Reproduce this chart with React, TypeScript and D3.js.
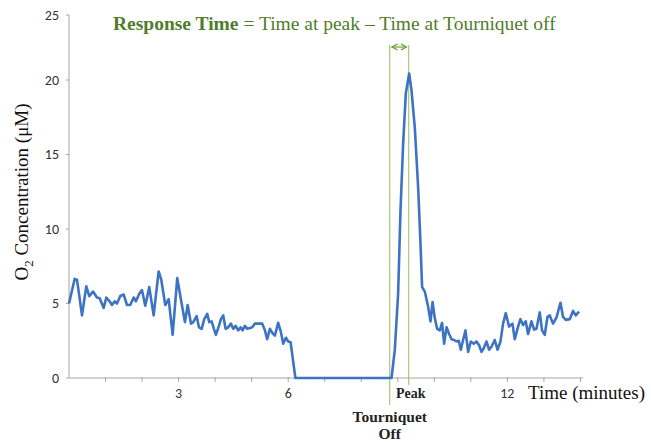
import React from "react";
import * as d3 from "d3";

// O2 concentration (µM) vs time (minutes), as [minute, µM] pairs
const baseline: [number, number][] = [
  [0, 5.0], [0.156, 6.65], [0.219, 6.6], [0.356, 4.2], [0.473, 6.15], [0.555, 5.5],
  [0.657, 5.8], [0.766, 5.4], [0.84, 5.35], [0.949, 4.7], [1.021, 5.4], [1.114, 5.15],
  [1.176, 4.9], [1.25, 5.15], [1.313, 5.0], [1.404, 5.5], [1.497, 5.6], [1.587, 4.9],
  [1.677, 4.9], [1.77, 5.4], [1.833, 5.15], [1.923, 5.65], [1.997, 5.9], [2.088, 4.85],
  [2.197, 6.1], [2.317, 4.2], [2.454, 7.15], [2.525, 6.6], [2.635, 4.9], [2.728, 5.3],
  [2.837, 2.9], [2.963, 6.7], [3.083, 5.0], [3.174, 3.75], [3.248, 4.9], [3.338, 3.65],
  [3.401, 3.75], [3.494, 4.15], [3.557, 3.4], [3.631, 3.3], [3.702, 3.95], [3.784, 4.3],
  [3.839, 3.75], [3.904, 3.8], [3.967, 3.3], [4.022, 2.9], [4.104, 3.5], [4.159, 3.95],
  [4.222, 4.2], [4.287, 3.3], [4.358, 3.4], [4.432, 3.65], [4.495, 3.3], [4.561, 3.5],
  [4.632, 3.2], [4.698, 3.4], [4.752, 3.2], [4.815, 3.5], [4.878, 3.3], [4.952, 3.35],
  [5.015, 3.4], [5.089, 3.65], [5.179, 3.65], [5.289, 3.65], [5.363, 3.2], [5.425, 2.6],
  [5.499, 3.3], [5.573, 3.0], [5.636, 2.85], [5.726, 3.7], [5.8, 3.1], [5.863, 2.3],
  [5.937, 2.7], [6.0, 2.45], [6.066, 2.4], [6.137, 1.1], [6.197, 0],
];

// Tourniquet on: signal flat at zero
const occlusion: [number, number][] = [[6.197, 0], [8.829, 0]];

// Reperfusion response after tourniquet release
const hyperemia: [number, number][] = [
  [8.829, 0], [8.919, 1.9], [9.01, 5.7], [9.075, 11.3], [9.146, 15.7], [9.22, 19.1],
  [9.311, 20.5], [9.376, 19.3], [9.466, 16.8], [9.557, 12.8], [9.622, 9.0], [9.666, 6.1],
  [9.74, 5.8], [9.83, 4.8],
];

const recovery: [number, number][] = [
  [9.896, 3.8], [9.951, 5.1], [10.014, 4.0], [10.077, 3.3], [10.15, 3.2], [10.213, 3.7],
  [10.268, 2.3], [10.334, 3.4], [10.405, 2.95], [10.47, 2.6], [10.542, 2.55], [10.607, 2.45],
  [10.67, 2.5], [10.725, 1.9], [10.788, 2.55], [10.853, 3.2], [10.925, 1.75], [10.999, 2.45],
  [11.081, 2.3], [11.155, 2.45], [11.226, 2.2], [11.291, 1.75], [11.354, 2.0], [11.428, 2.45],
  [11.499, 1.9], [11.565, 2.1], [11.655, 2.55], [11.729, 1.9], [11.811, 2.45], [11.882, 3.65],
  [11.956, 4.35], [12.046, 3.45], [12.139, 3.65], [12.202, 2.6], [12.293, 3.45], [12.358, 3.95],
  [12.429, 3.55], [12.503, 3.8], [12.566, 2.95], [12.659, 3.8], [12.731, 3.25], [12.796, 3.3],
  [12.886, 4.4], [12.949, 3.2], [13.023, 2.9], [13.097, 4.1], [13.16, 4.2], [13.25, 3.65],
  [13.343, 4.05], [13.453, 5.05], [13.524, 4.1], [13.598, 3.9], [13.707, 3.95], [13.798, 4.5],
  [13.871, 4.2], [13.962, 4.45],
];

const tourniquetOffMin = 8.78;
const peakMin = 9.3;

const yTicks = [0, 5, 10, 15, 20, 25];
const xTickMinutes = d3.range(1, 15);
const xTickLabels: Record<number, string> = { 3: "3", 6: "6", 12: "12" };

const W = 651;
const H = 443;

export default function App() {
  const x = d3.scaleLinear().domain([0, 14.07]).range([69, 583]);
  // the top interval of the axis is drawn shorter than the rest
  const y = d3.scaleLinear().domain([0, 20, 25]).range([378, 80, 15]);

  const data = [...baseline, ...occlusion.slice(1), ...hyperemia.slice(1), ...recovery];
  const line = d3
    .line<[number, number]>()
    .x((d) => x(d[0]))
    .y((d) => y(d[1]));

  const axisColor = "#a6a6a6";
  const green = "#9bbb59";
  const titleGreen = "#4f7d2a";
  const serif = "'Liberation Serif', 'Times New Roman', serif";
  const sans = "Carlito, 'Liberation Sans', Arial, sans-serif";

  const xOff = x(tourniquetOffMin);
  const xPeak = x(peakMin);
  const arrowY = 47;

  return (
    <div style={{ position: "absolute", left: 0, top: 0 }}>
      <svg width={W} height={H} style={{ display: "block", background: "#fff" }}>
        <defs>
          <marker id="ah" viewBox="0 0 10 10" refX="9" refY="5" markerWidth="6" markerHeight="6" orient="auto-start-reverse">
            <path d="M1,1 L9,5 L1,9" fill="none" stroke="#6f9f3a" strokeWidth="1.6" />
          </marker>
        </defs>

        {/* title */}
        <text x={113} y={30} fontFamily={serif} fontSize={19.5} fill={titleGreen}>
          <tspan fontWeight="bold">Response Time</tspan>
          <tspan> = Time at peak – Time at Tourniquet off</tspan>
        </text>

        {/* y axis */}
        <line x1={69} x2={69} y1={y(25)} y2={y(0)} stroke={axisColor} strokeWidth={1} />
        {yTicks.map((t) => (
          <g key={t}>
            <line x1={66} x2={69} y1={y(t)} y2={y(t)} stroke={axisColor} />
            <text x={59} y={y(t)} dy="0.35em" textAnchor="end" fontFamily={sans} fontSize={14} fill="#333">
              {t}
            </text>
          </g>
        ))}

        {/* x axis */}
        <line x1={69} x2={x(14.07)} y1={y(0)} y2={y(0)} stroke={axisColor} strokeWidth={1} />
        {xTickMinutes.map((m) => (
          <g key={m}>
            <line x1={x(m)} x2={x(m)} y1={y(0) - 1} y2={y(0) + 4} stroke={axisColor} />
            {xTickLabels[m] && (
              <text x={x(m)} y={398} textAnchor="middle" fontFamily={sans} fontSize={14} fill="#333">
                {xTickLabels[m]}
              </text>
            )}
          </g>
        ))}

        {/* marker lines for tourniquet release and peak */}
        <line x1={xOff} x2={xOff} y1={45} y2={405} stroke={green} strokeWidth={1} />
        <line x1={xPeak} x2={xPeak} y1={45} y2={385} stroke={green} strokeWidth={1} />
        <line
          x1={xOff + 2}
          x2={xPeak - 2}
          y1={arrowY}
          y2={arrowY}
          stroke="#6f9f3a"
          strokeWidth={1.2}
          markerStart="url(#ah)"
          markerEnd="url(#ah)"
        />

        {/* data */}
        <path d={line(data) ?? ""} fill="none" stroke="#3d73c3" strokeWidth={2.6} strokeLinejoin="round" />

        {/* annotations */}
        <text x={xPeak + 2} y={398} textAnchor="middle" fontFamily={serif} fontWeight="bold" fontSize={14} fill="#222">
          Peak
        </text>
        <text x={xOff} y={422} textAnchor="middle" fontFamily={serif} fontWeight="bold" fontSize={15.5} fill="#222">
          Tourniquet
        </text>
        <text x={xOff} y={439} textAnchor="middle" fontFamily={serif} fontWeight="bold" fontSize={15.5} fill="#222">
          Off
        </text>

        {/* axis titles */}
        <text x={528} y={399} fontFamily={serif} fontSize={19} fill="#111">
          Time (minutes)
        </text>
        <text transform="translate(28,192) rotate(-90)" textAnchor="middle" fontFamily={serif} fontSize={19} fill="#111">
          O<tspan fontSize={13} dy={5}>2</tspan>
          <tspan dy={-5}> Concentration (μM)</tspan>
        </text>
      </svg>
    </div>
  );
}
